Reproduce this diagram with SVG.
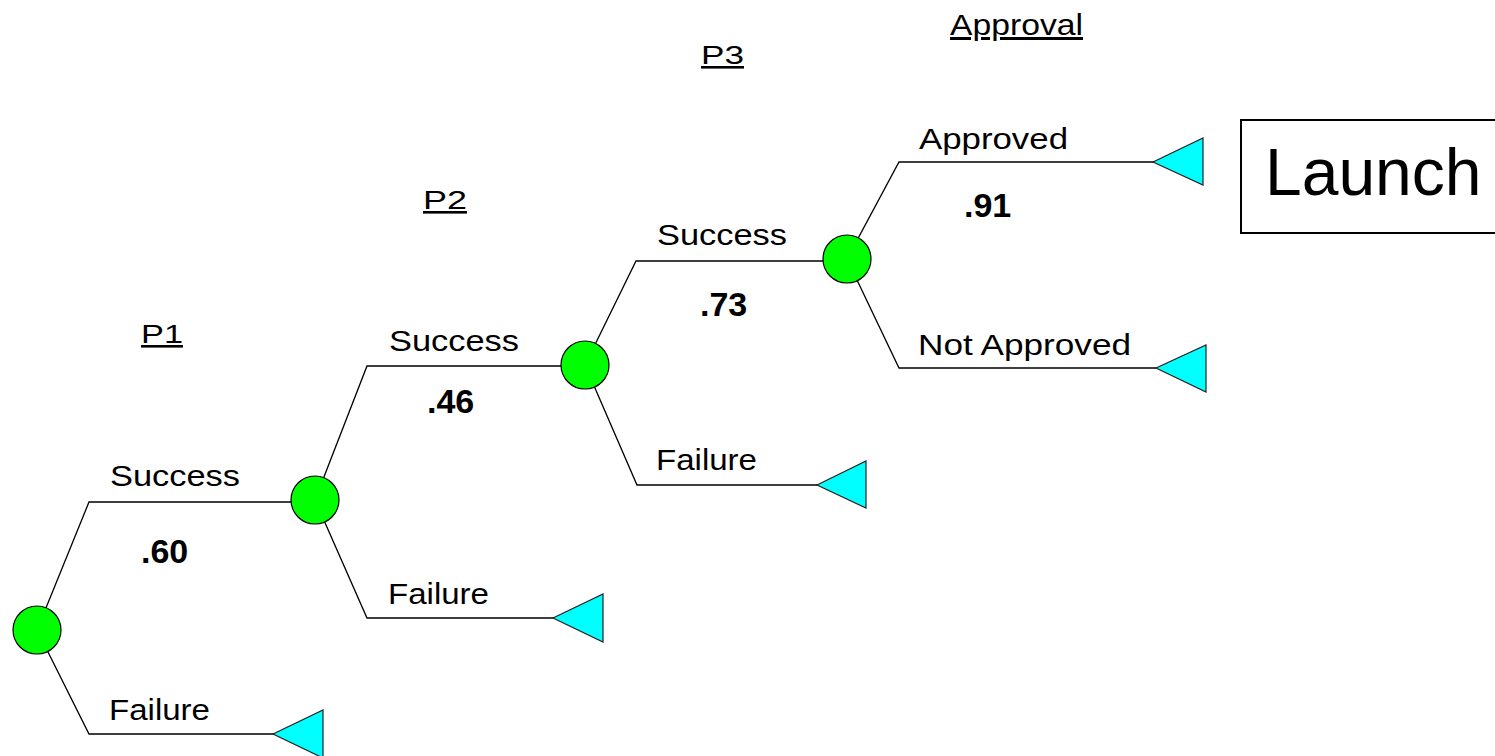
<svg xmlns="http://www.w3.org/2000/svg" width="1495" height="756" viewBox="0 0 1495 756">
<style>
.ln{fill:none;stroke:#000;stroke-width:1.3}
.ch{fill:#00ff00;stroke:#000;stroke-width:1.2}
.end{fill:#00ffff;stroke:#222;stroke-width:1.2}
.lbl{font-family:"Liberation Sans",Arial,sans-serif;font-size:30px;fill:#000}
.prob{font-family:"Liberation Sans",Arial,sans-serif;font-size:34px;font-weight:bold;fill:#000}
.hdr{font-family:"Liberation Sans",Arial,sans-serif;font-size:26px;fill:#000;text-decoration:underline}
</style>
<rect width="1495" height="756" fill="#fff"/>
<g id="connectors">
<polyline class="ln" points="37,630 89,502 315,502"/>
<polyline class="ln" points="37,630 89,734 274,734"/>
<polyline class="ln" points="315,500 367,366 585,366"/>
<polyline class="ln" points="315,500 367,618 554,618"/>
<polyline class="ln" points="585,365 636,261 847,261"/>
<polyline class="ln" points="585,365 637,485 818,485"/>
<polyline class="ln" points="847,259 899,162 1154,162"/>
<polyline class="ln" points="847,259 899,368 1157,368"/>
</g>
<g id="node-p1"><circle class="ch" cx="37" cy="630" r="24"/></g>
<g id="node-p2"><circle class="ch" cx="315" cy="500" r="24"/></g>
<g id="node-p3"><circle class="ch" cx="585" cy="365" r="24"/></g>
<g id="node-approval"><circle class="ch" cx="847" cy="259" r="24"/></g>
<g id="end-p1-failure"><polygon class="end" points="273,734 323,710 323,758"/></g>
<g id="end-p2-failure"><polygon class="end" points="553,618 603,594 603,642"/></g>
<g id="end-p3-failure"><polygon class="end" points="817,485 866,461 866,508"/></g>
<g id="end-approved"><polygon class="end" points="1153,162 1203,138 1203,185"/></g>
<g id="end-not-approved"><polygon class="end" points="1156,368 1206,345 1206,392"/></g>
<g id="labels">
<text class="lbl" x="110" y="486" textLength="130" lengthAdjust="spacingAndGlyphs">Success</text>
<text class="prob" x="141" y="563">.60</text>
<text class="lbl" x="109" y="720" textLength="101" lengthAdjust="spacingAndGlyphs">Failure</text>
<text class="lbl" x="389" y="351" textLength="130" lengthAdjust="spacingAndGlyphs">Success</text>
<text class="prob" x="427" y="413">.46</text>
<text class="lbl" x="388" y="604" textLength="101" lengthAdjust="spacingAndGlyphs">Failure</text>
<text class="lbl" x="657" y="245" textLength="130" lengthAdjust="spacingAndGlyphs">Success</text>
<text class="prob" x="700" y="316">.73</text>
<text class="lbl" x="656" y="470" textLength="101" lengthAdjust="spacingAndGlyphs">Failure</text>
<text class="lbl" x="919" y="149" textLength="149" lengthAdjust="spacingAndGlyphs">Approved</text>
<text class="prob" x="964" y="217">.91</text>
<text class="lbl" x="918" y="355" textLength="213" lengthAdjust="spacingAndGlyphs">Not Approved</text>
</g>
<g id="headers">
<text class="hdr" x="141" y="343" textLength="42" lengthAdjust="spacingAndGlyphs">P1</text>
<text class="hdr" x="423" y="209" textLength="44" lengthAdjust="spacingAndGlyphs">P2</text>
<text class="hdr" x="701" y="64" textLength="43" lengthAdjust="spacingAndGlyphs">P3</text>
<text class="hdr" x="950" y="35" style="font-size:30px" textLength="133" lengthAdjust="spacingAndGlyphs">Approval</text>
</g>
<g id="launch">
<rect x="1241" y="120" width="270" height="113" fill="#fff" stroke="#000" stroke-width="2"/>
<text x="1265" y="195" font-family="Liberation Sans, Arial, sans-serif" font-size="66" fill="#000">Launch</text>
</g>
</svg>
